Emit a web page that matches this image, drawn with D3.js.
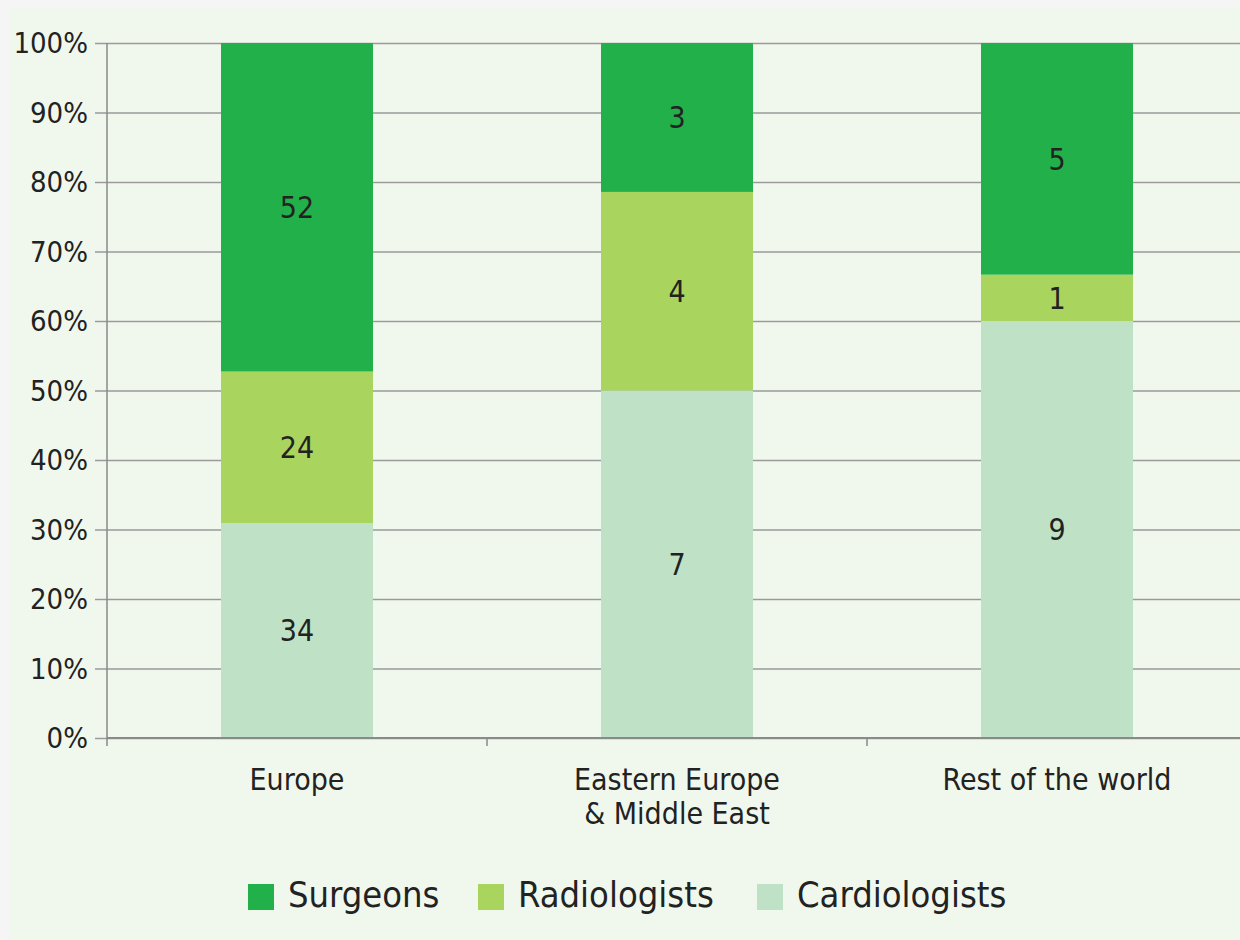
<!DOCTYPE html>
<html>
<head>
<meta charset="utf-8">
<script src="https://cdn.jsdelivr.net/npm/d3@7"></script>
<style>
  body{margin:0;background:#f5f5f5;}
  svg{display:block;}
  text{font-family:"DejaVu Sans Condensed","DejaVu Sans",sans-serif;fill:#222;}
</style>
</head>
<body>
<div id="chart"></div>
<script>
// data
let regions = ["Europe", "Eastern Europe\n& Middle East", "Rest of the world"];
let groups = ["Cardiologists", "Radiologists", "Surgeons"];
let cardiologists = [34, 7, 9];
let radiologists = [24, 4, 1];
let surgeons = [52, 3, 5];
let yTicks = [0, 0.1, 0.2, 0.3, 0.4, 0.5, 0.6, 0.7, 0.8, 0.9, 1];
let legendOrder = ["Surgeons", "Radiologists", "Cardiologists"];

let colors = {
    Surgeons: "#22b04b",
    Radiologists: "#a9d45e",
    Cardiologists: "#bfe2c7"
};

let width = 1240, height = 940;
let mLeft = 107, mRight = 1247, mTop = 43, mBottom = 738;

let svg = d3.select("#chart").append("svg")
    .attr("width", width)
    .attr("height", height);

// panel background
svg.append("rect")
    .attr("x", 10).attr("y", 7)
    .attr("width", width - 10).attr("height", height - 7)
    .attr("fill", "#f0f8ee");

let rows = regions.map((r, i) => {
    let total = cardiologists[i] + radiologists[i] + surgeons[i];
    return {
        region: r,
        Cardiologists: cardiologists[i] / total,
        Radiologists: radiologists[i] / total,
        Surgeons: surgeons[i] / total,
        raw: {Cardiologists: cardiologists[i], Radiologists: radiologists[i], Surgeons: surgeons[i]}
    };
});

let x = d3.scaleBand().domain(regions).range([mLeft, mRight]).paddingInner(0.6).paddingOuter(0.3);
let y = d3.scaleLinear().domain([0, 1]).range([mBottom, mTop]);

// grid + y axis
let yAxis = d3.axisLeft(y).tickValues(yTicks).tickFormat(d3.format(".0%"))
    .tickSize(-(width - mLeft)).tickPadding(8);
let gy = svg.append("g").attr("transform", `translate(${mLeft},0)`).call(yAxis);
gy.select(".domain").remove();
gy.selectAll(".tick line").attr("stroke", "#9a9a9a").attr("stroke-width", 1.5).attr("x1", -12);
gy.selectAll(".tick text").attr("x", -19).attr("font-size", 29).attr("fill", "#222")
    .attr("dy", "0.34em")
    .style("font-family", '"DejaVu Sans Condensed","DejaVu Sans",sans-serif');

svg.append("line")
    .attr("x1", mLeft).attr("x2", mLeft)
    .attr("y1", mTop).attr("y2", mBottom + 8)
    .attr("stroke", "#8a8a8a").attr("stroke-width", 1.5);

// stacked bars
let series = d3.stack().keys(groups)(rows);

let layer = svg.append("g").selectAll("g")
    .data(series)
    .enter().append("g")
    .attr("fill", d => colors[d.key]);

layer.selectAll("rect")
    .data(d => d.map(v => Object.assign(v, {key: d.key})))
    .enter().append("rect")
    .attr("x", d => x(d.data.region))
    .attr("width", x.bandwidth())
    .attr("y", d => y(d[1]))
    .attr("height", d => y(d[0]) - y(d[1]));

layer.selectAll("text")
    .data(d => d)
    .enter().append("text")
    .attr("x", d => x(d.data.region) + x.bandwidth() / 2)
    .attr("y", d => (y(d[0]) + y(d[1])) / 2)
    .attr("dy", "0.36em")
    .attr("text-anchor", "middle")
    .attr("font-size", 30)
    .attr("fill", "#1a2a1a")
    .text(d => d.data.raw[d.key]);

// x axis
svg.append("line")
    .attr("x1", mLeft).attr("x2", width)
    .attr("y1", mBottom).attr("y2", mBottom)
    .attr("stroke", "#8a8a8a").attr("stroke-width", 2);

let boundaries = regions.slice(1).map(r => x(r) - x.step() * x.paddingInner() / 2);
svg.append("g").selectAll("line")
    .data(boundaries)
    .enter().append("line")
    .attr("x1", d => d).attr("x2", d => d)
    .attr("y1", mBottom).attr("y2", mBottom + 8)
    .attr("stroke", "#8a8a8a").attr("stroke-width", 1.5);

let xl = svg.append("g").selectAll("text")
    .data(regions)
    .enter().append("text")
    .attr("x", d => x(d) + x.bandwidth() / 2)
    .attr("y", 790)
    .attr("text-anchor", "middle")
    .attr("font-size", 30);

xl.selectAll("tspan")
    .data(d => d.split("\n"))
    .enter().append("tspan")
    .attr("x", function() { return this.parentNode.getAttribute("x"); })
    .attr("dy", (d, i) => i === 0 ? 0 : 34)
    .text(d => d);

// legend
let legendX = [248, 478, 757];
let lg = svg.append("g").selectAll("g")
    .data(legendOrder)
    .enter().append("g")
    .attr("transform", (d, i) => `translate(${legendX[i]},884)`);

lg.append("rect")
    .attr("width", 26).attr("height", 26)
    .attr("fill", d => colors[d]);

lg.append("text")
    .attr("x", 40).attr("y", 23)
    .attr("font-size", 36)
    .text(d => d);
</script>
</body>
</html>
